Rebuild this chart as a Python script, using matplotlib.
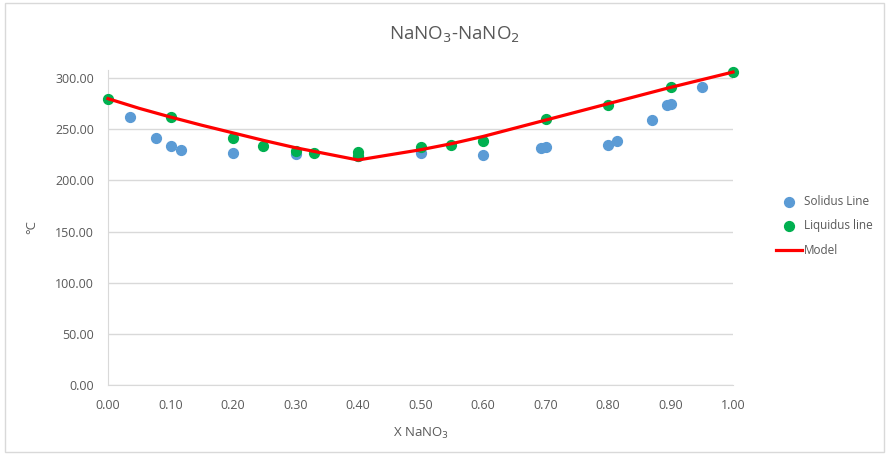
import matplotlib.pyplot as plt
from matplotlib.patches import Rectangle

# solidus points (blue)
solidus_x = [0.035, 0.076, 0.10, 0.116, 0.20, 0.30, 0.40, 0.50, 0.60, 0.693, 0.70, 0.80, 0.814, 0.87, 0.894, 0.90, 0.95]
solidus_y = [262, 242, 234, 230, 227, 226, 224, 227, 225, 232, 233, 235, 239, 259, 274, 275, 291]

# liquidus points (green)
liquidus_x = [0.0, 0.10, 0.20, 0.248, 0.30, 0.33, 0.40, 0.40, 0.50, 0.548, 0.60, 0.70, 0.80, 0.90, 1.0]
liquidus_y = [280, 262, 242, 234, 229, 227, 228, 224, 233, 235, 239, 260, 274, 291, 306]

# model curve
model_x = [0.0, 0.05, 0.1, 0.15, 0.2, 0.25, 0.3, 0.35, 0.4, 0.45, 0.5, 0.55, 0.6, 0.65, 0.7, 0.75, 0.8, 0.85, 0.9, 0.95, 1.0]
model_y = [280, 270.5, 262, 254, 246.5, 239, 232, 226, 220, 225, 230, 236, 243, 251, 259, 267, 275, 283, 291, 298.5, 306]

x_ticks = [0.0, 0.1, 0.2, 0.3, 0.4, 0.5, 0.6, 0.7, 0.8, 0.9, 1.0]
y_ticks = [0, 50, 100, 150, 200, 250, 300]

TEXT = "#595959"
GRID = "#D9D9D9"

plt.rcParams["font.family"] = ["Open Sans", "DejaVu Sans"]

fig = plt.figure(figsize=(8.89, 4.55), dpi=100)
fig.patches.append(Rectangle((5 / 889, 3 / 455), 879 / 889, 449 / 455, transform=fig.transFigure,
                             fill=False, edgecolor=GRID, linewidth=1))
ax = fig.add_axes([108 / 889, 70 / 455, 625 / 889, 315 / 455])

ax.scatter(solidus_x, solidus_y, s=50, color="#5B9BD5", zorder=3, clip_on=False, label="Solidus Line")
ax.scatter(liquidus_x, liquidus_y, s=50, color="#00B050", zorder=4, clip_on=False, label="Liquidus line")
ax.plot(model_x, model_y, color="#FF0000", linewidth=2.3, zorder=5, clip_on=False, label="Model")

ax.set_xlim(0, 1)
ax.set_ylim(0, 308)
ax.set_xticks(x_ticks)
ax.set_yticks(y_ticks)
ax.set_xticklabels([f"{v:.2f}" for v in x_ticks])
ax.set_yticklabels([f"{v:.2f}" for v in y_ticks])
ax.tick_params(length=0, labelsize=9, colors=TEXT)
ax.tick_params(axis="x", pad=10)
ax.tick_params(axis="y", pad=10)
ax.yaxis.grid(True, color=GRID, linewidth=1)
ax.set_axisbelow(True)
for side in ["top", "right"]:
    ax.spines[side].set_visible(False)
for side in ["left", "bottom"]:
    ax.spines[side].set_color(GRID)

fig.text(454 / 889, 1 - 35 / 455, "NaNO$_3$-NaNO$_2$", fontsize=13.5, color=TEXT, ha="center", va="center")
ax.set_xlabel("X NaNO$_3$", fontsize=9.5, color=TEXT, labelpad=10)
ax.set_ylabel("°C", fontsize=9.5, color=TEXT, labelpad=12)

fig.legend(loc="center left", bbox_to_anchor=(765 / 889, 1 - 226 / 455), frameon=False,
           fontsize=8.5, labelcolor=TEXT, handlelength=2.2, handletextpad=0.2,
           labelspacing=1.0, scatterpoints=1)

fig.savefig("out.png", dpi=100)
